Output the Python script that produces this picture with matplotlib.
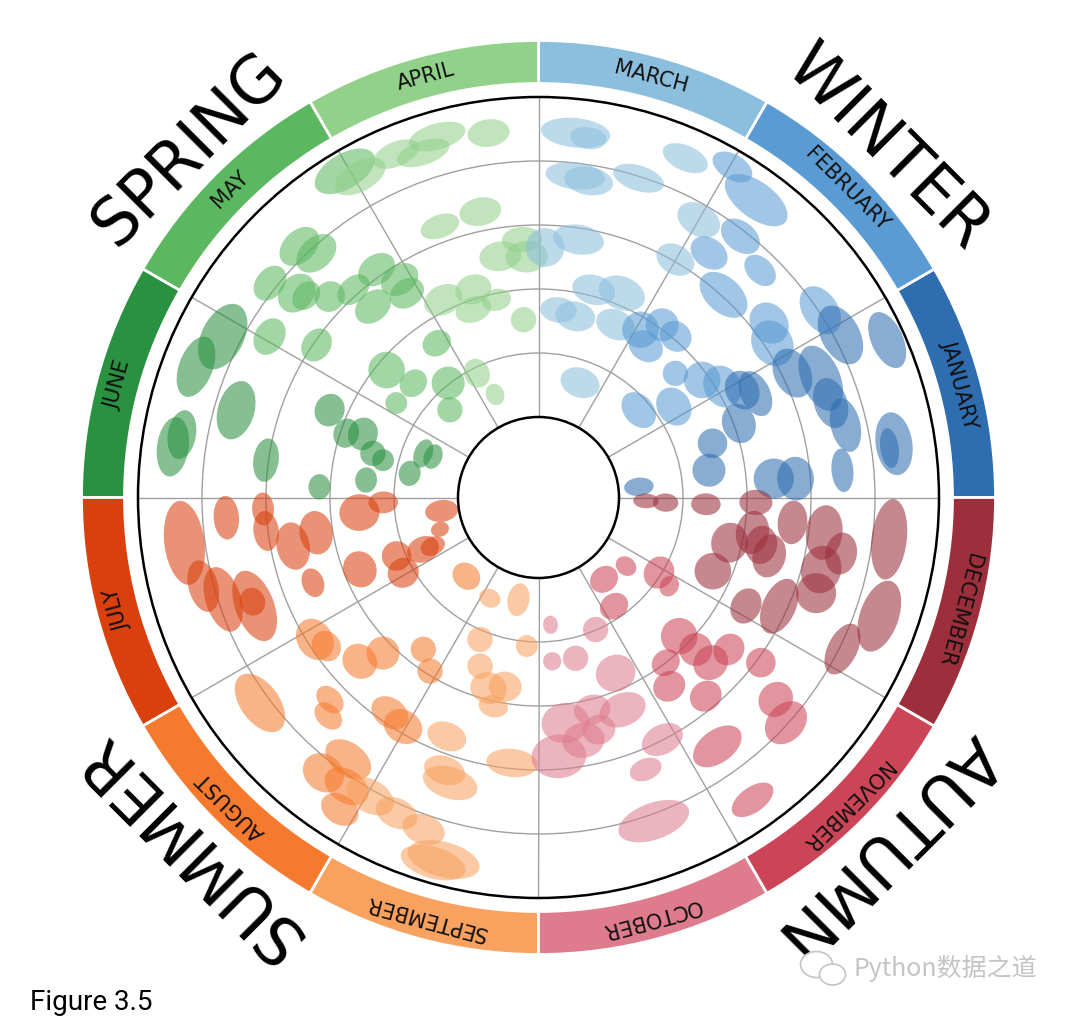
import numpy as np
import matplotlib.pyplot as plt
from matplotlib.patches import Wedge, Circle, Ellipse

MONTHS = ["JANUARY", "FEBRUARY", "MARCH", "APRIL", "MAY", "JUNE",
          "JULY", "AUGUST", "SEPTEMBER", "OCTOBER", "NOVEMBER", "DECEMBER"]
MONTH_COLORS = ["#2e6db0", "#5a9bd3", "#8cbedd",
                "#92d18a", "#5cb860", "#2a9140",
                "#d9400d", "#f67a2e", "#f9a15e",
                "#de7b8d", "#cc4556", "#9c2f3b"]
SEASONS = ["WINTER", "SPRING", "SUMMER", "AUTUMN"]

# one ellipse per entry: (angle in degrees, value 0..5, tangential size, radial size)
winter = [
    (84.2, 4.47, 0.99, 0.42), (82.1, 4.41, 0.52, 0.31), (66.6, 4.52, 0.68, 0.36),
    (59.6, 4.73, 0.62, 0.36), (53.8, 4.50, 1.04, 0.52), (83.5, 3.80, 0.85, 0.38),
    (81.0, 3.75, 0.70, 0.40), (72.6, 3.97, 0.75, 0.36), (60.0, 3.75, 0.65, 0.45),
    (52.3, 3.90, 0.62, 0.42), (55.1, 3.40, 0.57, 0.42), (45.7, 3.70, 0.52, 0.36),
    (81.2, 2.82, 0.73, 0.42), (60.1, 3.03, 0.57, 0.42), (47.6, 3.03, 0.80, 0.50),
    (33.6, 4.03, 0.75, 0.50), (28.3, 4.10, 0.90, 0.55), (24.3, 4.72, 0.85, 0.45),
    (37.1, 3.26, 0.62, 0.52), (75.1, 2.10, 0.62, 0.42), (67.8, 2.19, 0.68, 0.47),
    (83.9, 1.69, 0.52, 0.36), (78.5, 1.63, 0.57, 0.42), (66.0, 1.70, 0.57, 0.42),
    (58.7, 1.81, 0.52, 0.52), (54.4, 2.06, 0.47, 0.47), (49.6, 2.05, 0.47, 0.42),
    (54.7, 1.64, 0.52, 0.42), (33.4, 3.12, 0.68, 0.57), (26.1, 3.16, 0.73, 0.52),
    (22.9, 3.53, 0.98, 0.55), (17.9, 3.54, 0.73, 0.47), (13.3, 3.67, 0.78, 0.42),
    (8.6, 4.36, 0.90, 0.52), (8.0, 4.28, 0.57, 0.26), (5.1, 3.51, 0.62, 0.31),
    (4.6, 2.43, 0.57, 0.57), (4.2, 2.77, 0.62, 0.52), (20.3, 2.08, 0.57, 0.47),
    (17.3, 1.59, 0.42, 0.42), (9.1, 1.44, 0.47, 0.47), (6.1, 0.32, 0.26, 0.42),
    (31.1, 2.10, 0.62, 0.52), (27.8, 2.34, 0.57, 0.47), (25.6, 2.50, 0.68, 0.42),
    (35.7, 1.89, 0.52, 0.52), (33.9, 1.29, 0.57, 0.47), (42.2, 1.63, 0.36, 0.36),
    (41.1, 0.82, 0.57, 0.42), (70.1, 0.65, 0.57, 0.42),
]
spring = [
    (97.8, 4.49, 0.60, 0.39), (105.7, 4.60, 0.83, 0.37), (108.5, 4.42, 0.78, 0.34),
    (120.7, 4.67, 0.95, 0.50), (119.1, 4.48, 0.80, 0.42), (110.0, 3.25, 0.57, 0.33),
    (93.7, 2.78, 0.57, 0.36), (99.0, 2.56, 0.60, 0.42), (92.8, 2.51, 0.60, 0.45),
    (88.5, 2.65, 0.55, 0.55), (133.6, 4.16, 0.65, 0.45), (132.3, 3.90, 0.65, 0.45),
    (141.4, 4.11, 0.55, 0.40), (139.8, 3.69, 0.60, 0.48), (139.0, 3.55, 0.45, 0.35),
    (149.1, 3.64, 0.55, 0.42), (136.1, 3.27, 0.45, 0.42), (131.7, 3.09, 0.52, 0.36),
    (125.4, 3.11, 0.57, 0.42), (130.9, 2.69, 0.57, 0.42), (122.5, 2.78, 0.57, 0.42),
    (122.8, 2.54, 0.52, 0.40), (115.7, 2.17, 0.57, 0.42), (107.4, 2.15, 0.52, 0.42),
    (102.0, 1.90, 0.42, 0.31), (109.1, 1.85, 0.52, 0.36), (94.8, 1.53, 0.36, 0.36),
    (123.4, 1.63, 0.42, 0.36), (140.0, 1.84, 0.52, 0.52), (137.6, 1.39, 0.42, 0.36),
    (128.3, 1.02, 0.47, 0.47), (116.4, 0.91, 0.36, 0.42), (112.9, 0.49, 0.26, 0.31),
    (135.3, 0.69, 0.36, 0.36), (146.4, 1.41, 0.31, 0.31), (157.3, 2.28, 0.47, 0.42),
    (161.5, 1.91, 0.42, 0.36), (160.1, 1.66, 0.47, 0.42), (165.1, 1.42, 0.36, 0.36),
    (166.5, 1.24, 0.31, 0.31), (159.1, 0.67, 0.42, 0.26), (158.8, 0.51, 0.36, 0.26),
    (169.4, 0.79, 0.36, 0.31), (174.2, 1.45, 0.36, 0.31), (177.2, 2.17, 0.36, 0.31),
    (172.2, 3.04, 0.62, 0.36), (163.9, 3.66, 0.85, 0.52), (172.1, 4.51, 0.85, 0.45),
    (170.0, 4.40, 0.70, 0.40), (159.1, 4.47, 0.90, 0.48), (153.0, 4.28, 1.00, 0.60),
    (112.5, 4.55, 0.70, 0.35), (101.5, 3.30, 0.60, 0.40), (145.5, 2.95, 0.50, 0.40),
]
summer = [
    (187.3, 4.32, 1.20, 0.57), (183.7, 3.63, 0.62, 0.36), (182.4, 3.05, 0.47, 0.31),
    (187.0, 3.03, 0.57, 0.36), (191.2, 2.65, 0.68, 0.47), (189.0, 2.26, 0.62, 0.47),
    (200.7, 2.51, 0.42, 0.31), (184.8, 1.55, 0.52, 0.57), (181.8, 1.17, 0.31, 0.42),
    (201.9, 1.75, 0.52, 0.47), (202.4, 1.14, 0.42, 0.42), (209.1, 1.16, 0.42, 0.45),
    (204.2, 0.72, 0.36, 0.47), (204.7, 0.56, 0.26, 0.36), (187.9, 0.27, 0.31, 0.47),
    (197.9, 0.36, 0.21, 0.26), (227.5, 0.41, 0.42, 0.36), (244.2, 0.49, 0.31, 0.26),
    (258.9, 0.37, 0.31, 0.47), (265.5, 1.07, 0.31, 0.31), (247.6, 1.14, 0.36, 0.36),
    (250.9, 1.53, 0.36, 0.36), (255.3, 1.82, 0.52, 0.45), (260.0, 1.74, 0.47, 0.42),
    (257.8, 2.08, 0.42, 0.31), (232.8, 1.72, 0.36, 0.36), (238.0, 1.94, 0.36, 0.36),
    (225.0, 2.18, 0.47, 0.47), (222.5, 2.53, 0.52, 0.47), (235.4, 2.83, 0.57, 0.42),
    (239.4, 2.90, 0.57, 0.47), (249.0, 2.74, 0.57, 0.40), (264.3, 2.91, 0.73, 0.40),
    (252.8, 3.41, 0.80, 0.45), (251.0, 3.25, 0.60, 0.40), (224.1, 3.28, 0.45, 0.32),
    (226.1, 3.48, 0.45, 0.32), (212.4, 2.88, 0.62, 0.50), (215.0, 2.79, 0.45, 0.40),
    (216.4, 4.15, 0.95, 0.55), (194.8, 4.16, 0.75, 0.42), (197.9, 3.92, 0.95, 0.50),
    (200.9, 3.49, 1.05, 0.55), (200.0, 3.50, 0.40, 0.36), (234.0, 3.80, 0.73, 0.47),
    (232.0, 4.20, 0.62, 0.52), (236.4, 4.16, 0.68, 0.47), (240.6, 4.10, 0.73, 0.47),
    (237.5, 4.52, 0.57, 0.42), (245.8, 4.15, 0.62, 0.42), (250.9, 4.23, 0.62, 0.42),
    (255.3, 4.59, 1.05, 0.50), (253.9, 4.68, 0.95, 0.45),
]
autumn = [
    (353.2, 4.26, 1.15, 0.50), (340.8, 4.38, 1.05, 0.55), (333.5, 4.05, 0.78, 0.42),
    (353.0, 3.24, 0.78, 0.52), (345.7, 3.30, 0.68, 0.57), (341.0, 3.33, 0.57, 0.57),
    (354.4, 2.73, 0.62, 0.42), (335.7, 2.87, 0.83, 0.47), (350.7, 2.13, 0.62, 0.47),
    (345.8, 2.46, 0.62, 0.47), (348.0, 2.30, 0.55, 0.45), (346.7, 1.81, 0.57, 0.52),
    (337.1, 1.70, 0.52, 0.52), (332.4, 2.40, 0.52, 0.42), (358.7, 2.14, 0.36, 0.47),
    (357.7, 1.36, 0.31, 0.42), (357.7, 0.73, 0.26, 0.36), (358.2, 0.42, 0.21, 0.36),
    (328.1, 0.96, 0.47, 0.42), (325.9, 1.21, 0.31, 0.26), (321.9, 0.48, 0.26, 0.31),
    (308.7, 0.38, 0.42, 0.36), (304.8, 0.81, 0.42, 0.36), (275.4, 0.74, 0.21, 0.26),
    (293.4, 0.99, 0.36, 0.36), (274.8, 1.31, 0.26, 0.26), (283.0, 1.32, 0.36, 0.36),
    (293.7, 1.74, 0.57, 0.52), (315.4, 1.83, 0.52, 0.52), (316.0, 2.16, 0.47, 0.47),
    (307.6, 2.00, 0.42, 0.36), (321.4, 2.55, 0.47, 0.42), (316.2, 2.47, 0.52, 0.47),
    (304.7, 2.33, 0.47, 0.42), (310.1, 2.80, 0.47, 0.42), (323.4, 3.07, 0.42, 0.42),
    (319.6, 3.61, 0.52, 0.47), (317.7, 3.97, 0.68, 0.52), (305.7, 3.53, 0.78, 0.47),
    (297.1, 2.99, 0.62, 0.42), (291.5, 3.31, 0.47, 0.31), (305.3, 4.53, 0.68, 0.36),
    (289.6, 4.11, 1.05, 0.52), (291.6, 2.31, 0.68, 0.47), (284.2, 2.16, 0.52, 0.42),
    (276.8, 2.29, 0.68, 0.57), (274.5, 2.80, 0.78, 0.62), (284.6, 2.49, 0.47, 0.42),
    (280.5, 2.60, 0.60, 0.50), (349.5, 3.55, 0.60, 0.45),
]

# geometry in pixels (axes units = pixels, origin at the center)
R_IN, R_OUT = 80.5, 400.5
RING_IN, RING_OUT = 414, 457
SCALE = (R_OUT - R_IN) / 5
SIZE = 1.1 * SCALE  # ellipse size scale

fig = plt.figure(figsize=(10.8, 10.18), dpi=100)
ax = fig.add_axes([0, 0, 1, 1])
ax.set_xlim(-538.5, 541.5)
ax.set_ylim(-520.5, 497.5)
ax.axis("off")

# grid
for k in range(1, 5):
    ax.add_patch(Circle((0, 0), R_IN + k * SCALE, fc="none", ec="#a0a0a0", lw=1.0, zorder=1))
for k in range(12):
    a = np.radians(30 * k)
    ax.plot([R_IN * np.cos(a), R_OUT * np.cos(a)], [R_IN * np.sin(a), R_OUT * np.sin(a)],
            color="#a0a0a0", lw=1.0, zorder=1)

# ellipses
data = np.array(winter + spring + summer + autumn)
theta, value, tw, rh = data.T
t = np.radians(theta)
r = R_IN + value * SCALE
for ti, xi, yi, wi, hi in zip(theta, r * np.cos(t), r * np.sin(t), tw, rh):
    month = int(ti // 30) % 12
    ax.add_patch(Ellipse((xi, yi), wi * SIZE, hi * SIZE, angle=ti + 90,
                         fc=MONTH_COLORS[month], ec="none", alpha=0.57, zorder=2))

# inner hole and outer circle
ax.add_patch(Circle((0, 0), R_IN, fc="white", ec="black", lw=1.8, zorder=4))
ax.add_patch(Circle((0, 0), R_OUT, fc="none", ec="black", lw=1.8, zorder=4))

# month ring
r_mid = (RING_IN + RING_OUT) / 2
for i, (name, color) in enumerate(zip(MONTHS, MONTH_COLORS)):
    ax.add_patch(Wedge((0, 0), RING_OUT, 30 * i, 30 * (i + 1), width=RING_OUT - RING_IN,
                       fc=color, ec="white", lw=2, zorder=5))
    a = 30 * i + 15
    ax.text(r_mid * np.cos(np.radians(a)), r_mid * np.sin(np.radians(a)), name,
            rotation=a - 90, rotation_mode="anchor", ha="center", va="center",
            fontsize=15, color="#111111", zorder=6)

# seasons
for i, name in enumerate(SEASONS):
    a = 45 + 90 * i
    ax.text(493 * np.cos(np.radians(a)), 493 * np.sin(np.radians(a)), name,
            rotation=a - 90, rotation_mode="anchor", ha="center", va="center",
            fontsize=47, color="black", zorder=6)

fig.text(30 / 1080, 1 - 1010 / 1018, "Figure 3.5", fontsize=20, family="Roboto",
         va="baseline", ha="left")

# watermark
ax.add_patch(Ellipse((278, -467), 32, 26, fc="white", ec="#c4c4c4", lw=1.2, zorder=6))
ax.add_patch(Ellipse((294, -477), 26, 21, fc="white", ec="#c4c4c4", lw=1.2, zorder=6))
fig.text(853 / 1080, 1 - 976 / 1018, "Python数据之道", fontsize=18,
         family=["Noto Sans CJK SC", "DejaVu Sans"], color="#c4c4c4",
         va="baseline", ha="left")

fig.savefig("out.png", dpi=100)
